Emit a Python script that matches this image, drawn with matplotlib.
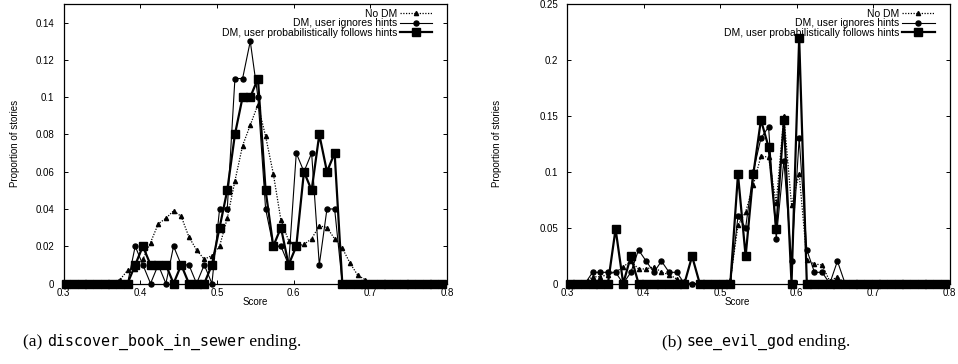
import numpy as np
import matplotlib
matplotlib.use("Agg")
import matplotlib.pyplot as plt
from matplotlib.ticker import FixedLocator, FixedFormatter

# ---------------- data ----------------
score = np.round(np.arange(50) * 0.01 + 0.3035, 4)

series_labels = ["No DM", "DM, user ignores hints",
                 "DM, user probabilistically follows hints"]

# (a) discover_book_in_sewer
nodm_a = [0, 0, 0, 0, 0, 0, 0.001, 0.002, 0.007, 0.008,
          0.013, 0.022, 0.032, 0.035, 0.039, 0.036, 0.025, 0.018, 0.013, 0.015,
          0.020, 0.035, 0.055, 0.074, 0.085, 0.096, 0.079, 0.059, 0.034, 0.023,
          0.020, 0.021, 0.024, 0.031, 0.030, 0.024, 0.019, 0.011, 0.0045, 0.002,
          0.0005, 0, 0, 0, 0, 0, 0, 0, 0, 0]
ignores_a = [0, 0, 0, 0, 0, 0, 0, 0, 0, 0.02,
             0.01, 0, 0.01, 0, 0.02, 0.01, 0.01, 0, 0.01, 0,
             0.04, 0.04, 0.11, 0.11, 0.13, 0.10, 0.04, 0.02, 0.02, 0.01,
             0.07, 0.06, 0.07, 0.01, 0.04, 0.04, 0, 0, 0, 0,
             0, 0, 0, 0, 0, 0, 0, 0, 0, 0]
follows_a = [0, 0, 0, 0, 0, 0, 0, 0, 0, 0.01,
             0.02, 0.01, 0.01, 0.01, 0, 0.01, 0, 0, 0, 0.01,
             0.03, 0.05, 0.08, 0.10, 0.10, 0.11, 0.05, 0.02, 0.03, 0.01,
             0.02, 0.06, 0.05, 0.08, 0.06, 0.07, 0, 0, 0, 0,
             0, 0, 0, 0, 0, 0, 0, 0, 0, 0]

# (b) see_evil_god
nodm_b = [0, 0, 0.001, 0.006, 0.006, 0.008, 0.010, 0.015, 0.020, 0.013,
          0.013, 0.015, 0.010, 0.008, 0.004, 0.002, 0, 0, 0, 0,
          0, 0.003, 0.052, 0.064, 0.088, 0.114, 0.113, 0.072, 0.150, 0.070,
          0.098, 0.021, 0.0175, 0.0165, 0.002, 0.006, 0, 0, 0, 0,
          0, 0, 0, 0, 0, 0, 0, 0, 0, 0]
ignores_b = [0, 0, 0, 0.01, 0.01, 0.01, 0.01, 0, 0.01, 0.03,
             0.02, 0.01, 0.02, 0.01, 0.01, 0, 0, 0, 0, 0,
             0, 0, 0.06, 0.05, 0.10, 0.13, 0.14, 0.04, 0.11, 0.02,
             0.13, 0.03, 0.01, 0.01, 0, 0.02, 0, 0, 0, 0,
             0, 0, 0, 0, 0, 0, 0, 0, 0, 0]
follows_b = [0, 0, 0, 0, 0, 0, 0.0488, 0, 0.0244, 0,
             0, 0, 0, 0, 0, 0, 0.0244, 0, 0, 0,
             0, 0, 0.0976, 0.0244, 0.0976, 0.1463, 0.1220, 0.0488, 0.1463, 0,
             0.2195, 0, 0, 0, 0, 0, 0, 0, 0, 0,
             0, 0, 0, 0, 0, 0, 0, 0, 0, 0]

xticks = [0.3, 0.4, 0.5, 0.6, 0.7, 0.8]
xtick_labels = ["0.3", "0.4", "0.5", "0.6", "0.7", "0.8"]
yticks_a = [0, 0.02, 0.04, 0.06, 0.08, 0.10, 0.12, 0.14]
ytick_labels_a = ["0", "0.02", "0.04", "0.06", "0.08", "0.1", "0.12", "0.14"]
yticks_b = [0, 0.05, 0.10, 0.15, 0.20, 0.25]
ytick_labels_b = ["0", "0.05", "0.1", "0.15", "0.2", "0.25"]

x_label = "Score"
y_label = "Proportion of stories"
caption_a = ("(a) ", "discover_book_in_sewer", " ending.")
caption_b = ("(b) ", "see_evil_god", " ending.")

# ---------------- figure ----------------
W, H = 958, 364
fig = plt.figure(figsize=(W / 100, H / 100), dpi=100)
SANS = "Liberation Sans"
FS = 7
LFS = 7.5


def px_axes(l, t, r, b):
    return fig.add_axes([l / W, 1 - b / H, (r - l) / W, (b - t) / H])


def style_axes(ax, yt, ytl, ymax):
    ax.set_xlim(0.3, 0.8)
    ax.set_ylim(0, ymax)
    ax.xaxis.set_major_locator(FixedLocator(xticks))
    ax.xaxis.set_major_formatter(FixedFormatter(xtick_labels))
    ax.yaxis.set_major_locator(FixedLocator(yt))
    ax.yaxis.set_major_formatter(FixedFormatter(ytl))
    ax.tick_params(direction="in", length=3, width=0.7, top=True, right=True,
                   labelsize=FS, colors="black")
    ax.tick_params(axis="y", pad=6.5)
    ax.tick_params(axis="x", pad=3.5)
    for lab in ax.get_xticklabels() + ax.get_yticklabels():
        lab.set_family(SANS)
    for s in ax.spines.values():
        s.set_linewidth(0.9)
        s.set_color("black")


def draw_series(ax, nodm, ign, fol):
    ax.plot(score, nodm, color="black", lw=0.9, ls=(0, (1, 1.2)),
            marker="^", ms=3.0, label=series_labels[0], clip_on=False, zorder=3)
    ax.plot(score, ign, color="black", lw=0.8, ls="-",
            marker="o", ms=3.6, label=series_labels[1], clip_on=False, zorder=4)
    ax.plot(score, fol, color="black", lw=1.6, ls="-",
            marker="s", ms=5.3, label=series_labels[2], clip_on=False, zorder=5)
    leg = ax.legend(loc="upper right", frameon=False, markerfirst=False,
                    prop={"family": SANS, "size": LFS}, handlelength=3.1,
                    handletextpad=0.25, labelspacing=-0.05,
                    borderaxespad=0.0, bbox_to_anchor=(0.972, 0.997))
    return leg


axA = px_axes(63.5, 4, 447, 283.5)
style_axes(axA, yticks_a, ytick_labels_a, 0.15)
legA = draw_series(axA, nodm_a, ignores_a, follows_a)

axB = px_axes(567, 4, 949.5, 283.5)
style_axes(axB, yticks_b, ytick_labels_b, 0.25)
legB = draw_series(axB, nodm_b, ignores_b, follows_b)

for ax, yx in ((axA, 15), (axB, 497)):
    l = ax.get_position().x0 * W
    w = ax.get_position().width * W
    ax.set_ylabel(y_label, family=SANS, fontsize=FS, va="center")
    ax.yaxis.set_label_coords((yx - l) / w, 0.5)

axA.text((255 - 63.5) / 383.5, -(302 - 283.5) / 279.5, x_label,
         transform=axA.transAxes, ha="center", va="center",
         family=SANS, fontsize=FS)
axB.text((737 - 567) / 382.5, -(302 - 283.5) / 279.5, x_label,
         transform=axB.transAxes, ha="center", va="center",
         family=SANS, fontsize=FS)

fig.canvas.draw()
renderer = fig.canvas.get_renderer()


def caption(center_x, base_y, parts):
    fams = ["Liberation Serif", "DejaVu Sans Mono", "Liberation Serif"]
    sizes = [12.5, 10.8, 12.5]
    objs = []
    for p, f, s in zip(parts, fams, sizes):
        objs.append(fig.text(0, 1 - base_y / H, p, family=f, fontsize=s,
                             ha="left", va="baseline"))
    fig.canvas.draw()
    widths = [o.get_window_extent(renderer).width for o in objs]
    x = center_x - sum(widths) / 2
    for o, w in zip(objs, widths):
        o.set_x(x / W)
        x += w


caption(162, 346, caption_a)
caption(756, 346, caption_b)

fig.savefig("out.png", dpi=100)
